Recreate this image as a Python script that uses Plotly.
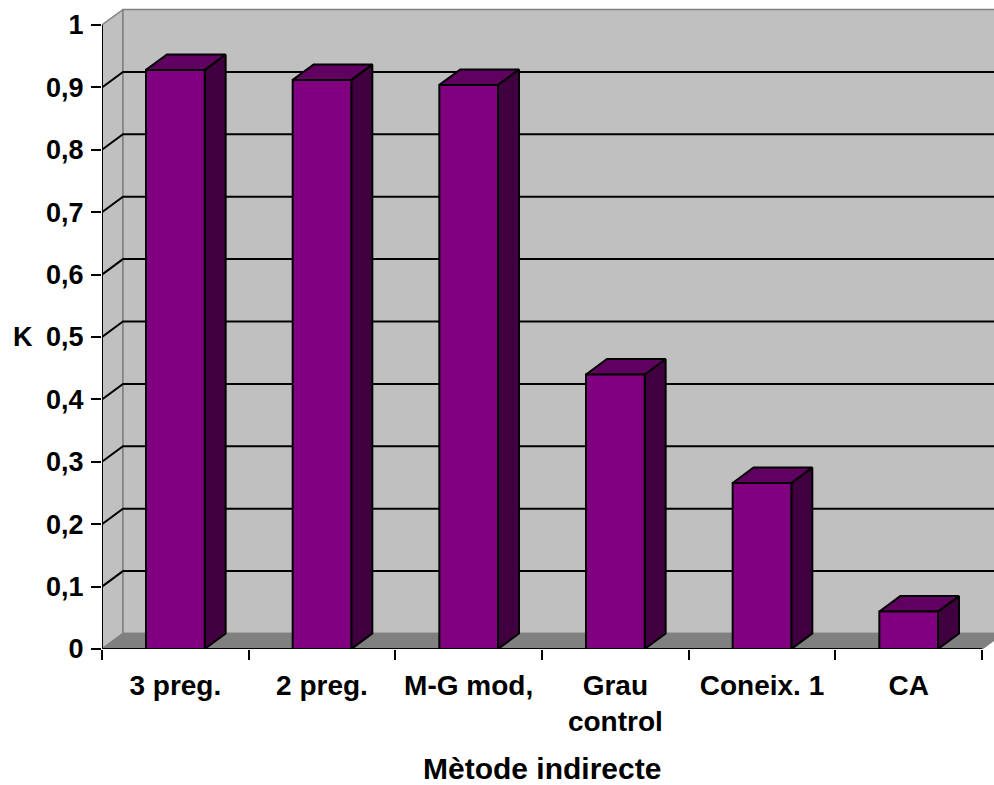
import plotly.graph_objects as go

# Kappa agreement per indirect method
categories = ["3 preg.", "2 preg.", "M-G mod,", "Grau<br>control", "Coneix. 1", "CA"]
kappa = [0.928, 0.912, 0.904, 0.44, 0.266, 0.06]

y_tick_vals = [0, 0.1, 0.2, 0.3, 0.4, 0.5, 0.6, 0.7, 0.8, 0.9, 1]
y_tick_text = ["0", "0,1", "0,2", "0,3", "0,4", "0,5", "0,6", "0,7", "0,8", "0,9", "1"]

# pseudo-3D depth offset, in axis units
DX = 0.143
DY = 0.0248
HALF = 0.2

FRONT = "#800080"
SIDE = "#400040"
TOP = "#600060"
WALL = "#C0C0C0"
FLOOR = "#808080"
EDGE = "#808080"
FONT = "Liberation Sans, Arial, sans-serif"

n = len(categories)
x_lo, x_hi = -0.5, n - 0.5

fig = go.Figure()


def poly(xs, ys, fill, line_color="black", width=2):
    fig.add_trace(go.Scatter(
        x=xs + [xs[0]], y=ys + [ys[0]], mode="lines", fill="toself",
        fillcolor=fill, line=dict(color=line_color, width=width),
        hoverinfo="skip", showlegend=False))


# walls and floor
poly([x_lo, x_lo, x_lo + DX, x_lo + DX], [0, 1, 1 + DY, DY], WALL, EDGE, 1.5)
poly([x_lo + DX, x_lo + DX, x_hi + DX, x_hi + DX], [DY, 1 + DY, 1 + DY, DY], WALL, EDGE, 1.5)
poly([x_lo, x_hi, x_hi + DX, x_lo + DX], [0, 0, DY, DY], FLOOR, EDGE, 1.5)

# gridlines: diagonal on the side wall, horizontal on the back wall
for v in y_tick_vals[1:-1]:
    fig.add_trace(go.Scatter(
        x=[x_lo, x_lo + DX, x_hi + DX], y=[v, v + DY, v + DY], mode="lines",
        line=dict(color="black", width=2), hoverinfo="skip", showlegend=False))

# columns: front face, right side, top
for i, v in enumerate(kappa):
    l, r = i - HALF, i + HALF
    poly([r, r + DX, r + DX, r], [0, DY, v + DY, v], SIDE)
    poly([l, r, r + DX, l + DX], [v, v, v + DY, v + DY], TOP)
    poly([l, r, r, l], [0, 0, v, v], FRONT)

# front axis lines
fig.add_trace(go.Scatter(x=[x_lo, x_lo, x_hi], y=[1, 0, 0], mode="lines",
                         line=dict(color="black", width=2),
                         hoverinfo="skip", showlegend=False))

fig.update_layout(
    width=994, height=785,
    margin=dict(l=102, r=0, t=0, b=135.5),
    paper_bgcolor="white", plot_bgcolor="white",
    font=dict(family=FONT, color="black"),
    xaxis=dict(
        range=[x_lo, x_lo + 892 / 146.667],
        tickmode="array", tickvals=list(range(n)), ticktext=categories,
        ticks="", showgrid=False, zeroline=False, showline=False,
        tickfont=dict(size=28, family=FONT, weight="bold"),
        ticklabelstandoff=17,
        minor=dict(tickmode="array", tickvals=[k - 0.5 for k in range(n + 1)],
                   ticks="outside", ticklen=10, tickwidth=2, tickcolor="black",
                   showgrid=False),
    ),
    yaxis=dict(
        range=[0, 649.5 / 624.5],
        tickmode="array", tickvals=y_tick_vals, ticktext=y_tick_text,
        ticks="outside", ticklen=10, tickwidth=2, tickcolor="black",
        showgrid=False, zeroline=False, showline=False,
        tickfont=dict(size=27, family=FONT, weight="bold"),
        ticklabelstandoff=2,
    ),
    annotations=[
        dict(text="<b>K</b>", xref="paper", yref="y", x=(23 - 102) / 892, y=0.5,
             xanchor="center", yanchor="middle", showarrow=False,
             font=dict(size=27, family=FONT)),
        dict(text="<b>Mètode indirecte</b>", xref="x", yref="paper", x=2.5,
             y=-(769 - 649.5) / 649.5, xanchor="center", yanchor="middle",
             showarrow=False, font=dict(size=30, family=FONT)),
    ],
)

fig.write_html("out.html")
